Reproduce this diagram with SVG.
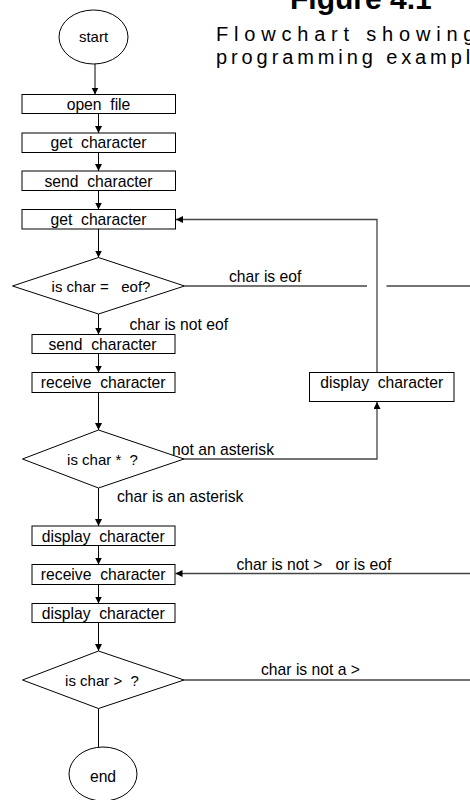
<svg xmlns="http://www.w3.org/2000/svg" width="470" height="800" viewBox="0 0 470 800">
  <style>
    text { font-family: "Liberation Sans", Arial, sans-serif; fill: #000; }
    .box { fill: #fff; stroke: #000; stroke-width: 1; }
    .term { fill: #fff; stroke: #000; stroke-width: 1; }
    .dec { fill: #fff; stroke: #000; stroke-width: 1; }
    .t { font-size: 15.7px; text-anchor: middle; }
    .td { font-size: 15px; text-anchor: middle; }
    .lbl { font-size: 15.7px; }
    .flow { fill: none; stroke: #000; stroke-width: 1; }
    .loop { fill: none; stroke: #444; stroke-width: 1.3; }
    .title { font-size: 30px; font-weight: bold; }
    .sub { font-size: 20px; }
  </style>
  <defs>
    <marker id="arrow" markerUnits="userSpaceOnUse" markerWidth="8" markerHeight="8" refX="7" refY="3.5" orient="auto">
      <path d="M0,0 L7,3.5 L0,7 z" fill="#000"/>
    </marker>
  </defs>
  <rect width="470" height="800" fill="#fff"/>

  <!-- heading -->
  <g id="heading">
    <text class="title" x="290" y="9">Figure 4.1</text>
    <text class="sub" x="216" y="40.5" letter-spacing="5.8">Flowchart showing</text>
    <text class="sub" x="216" y="63.5" letter-spacing="3.9">programming example</text>
  </g>

  <!-- connectors -->
  <g id="connectors">
    <line class="flow" x1="95" y1="64" x2="95" y2="94.5" marker-end="url(#arrow)"/>
    <line class="flow" x1="98.5" y1="113.5" x2="98.5" y2="133" marker-end="url(#arrow)"/>
    <line class="flow" x1="98.5" y1="152.5" x2="98.5" y2="171" marker-end="url(#arrow)"/>
    <line class="flow" x1="98.5" y1="190.5" x2="98.5" y2="209.5" marker-end="url(#arrow)"/>
    <line class="flow" x1="98.5" y1="229" x2="98.5" y2="257.5" marker-end="url(#arrow)"/>
    <line class="flow" x1="98.5" y1="314" x2="98.5" y2="334.5" marker-end="url(#arrow)"/>
    <line class="flow" x1="98.5" y1="353.5" x2="98.5" y2="372.5" marker-end="url(#arrow)"/>
    <line class="flow" x1="98.5" y1="392.5" x2="98.5" y2="430" marker-end="url(#arrow)"/>
    <line class="flow" x1="98.5" y1="488" x2="98.5" y2="526" marker-end="url(#arrow)"/>
    <line class="flow" x1="98.5" y1="545.5" x2="98.5" y2="564.5" marker-end="url(#arrow)"/>
    <line class="flow" x1="98.5" y1="584.5" x2="98.5" y2="603.5" marker-end="url(#arrow)"/>
    <line class="flow" x1="98.5" y1="622.5" x2="98.5" y2="651" marker-end="url(#arrow)"/>
    <line class="flow" x1="98.5" y1="708.5" x2="98.5" y2="747"/>

    <!-- char is eof: line jumps the return loop -->
    <line class="loop" x1="184.5" y1="286" x2="367" y2="286"/>
    <line class="loop" x1="386.5" y1="286" x2="470" y2="286"/>
    <!-- not an asterisk -->
    <polyline class="loop" points="184,459 377,459 377,402" marker-end="url(#arrow)"/>
    <!-- back to get character -->
    <polyline class="loop" points="377,372.5 377,219.5 176,219.5" marker-end="url(#arrow)"/>
    <!-- char is not > or is eof -->
    <line class="loop" x1="470" y1="573.5" x2="175.5" y2="573.5" marker-end="url(#arrow)"/>
    <!-- char is not a > -->
    <line class="loop" x1="184" y1="680" x2="470" y2="680"/>

    <text class="lbl" x="229" y="282">char is eof</text>
    <text class="lbl" x="129.5" y="330">char is not eof</text>
    <text class="lbl" x="172" y="455">not an asterisk</text>
    <text class="lbl" x="117" y="502">char is an asterisk</text>
    <text class="lbl" x="236.5" y="569.5" xml:space="preserve">char is not &gt;   or is eof</text>
    <text class="lbl" x="261" y="675">char is not a &gt;</text>
  </g>

  <!-- nodes -->
  <g id="start">
    <ellipse class="term" cx="93.5" cy="37" rx="34.5" ry="27"/>
    <text class="t" x="93.5" y="42" style="font-size:15px">start</text>
  </g>
  <g id="open-file">
    <rect class="box" x="22" y="94.5" width="153.5" height="19"/>
    <text class="t" x="98.5" y="109.5" xml:space="preserve">open  file</text>
  </g>
  <g id="get-character-1">
    <rect class="box" x="22" y="133" width="153.5" height="19.5"/>
    <text class="t" x="98.5" y="148.3" xml:space="preserve">get  character</text>
  </g>
  <g id="send-character-1">
    <rect class="box" x="22" y="171" width="153.5" height="19.5"/>
    <text class="t" x="98.5" y="186.5" xml:space="preserve">send  character</text>
  </g>
  <g id="get-character-2">
    <rect class="box" x="22" y="209.5" width="153.5" height="19.5"/>
    <text class="t" x="98.5" y="225" xml:space="preserve">get  character</text>
  </g>
  <g id="is-eof">
    <polygon class="dec" points="12.5,286 98.5,257.5 184.5,286 98.5,314"/>
    <text class="td" x="101" y="292" xml:space="preserve">is char =   eof?</text>
  </g>
  <g id="send-character-2">
    <rect class="box" x="32" y="334.5" width="143" height="19"/>
    <text class="t" x="102.5" y="349.5" xml:space="preserve">send  character</text>
  </g>
  <g id="receive-character-1">
    <rect class="box" x="32" y="372.5" width="143" height="20"/>
    <text class="t" x="103.2" y="388" xml:space="preserve">receive  character</text>
  </g>
  <g id="display-character-loop">
    <rect class="box" x="309.5" y="372.5" width="144.5" height="29"/>
    <text class="t" x="381.7" y="388.3" xml:space="preserve">display  character</text>
  </g>
  <g id="is-asterisk">
    <polygon class="dec" points="22.5,459 98.5,430 184,459 98.5,488"/>
    <text class="td" x="102.5" y="465" xml:space="preserve">is char *  ?</text>
  </g>
  <g id="display-character-1">
    <rect class="box" x="32" y="526" width="143" height="19.5"/>
    <text class="t" x="103.2" y="541.5" xml:space="preserve">display  character</text>
  </g>
  <g id="receive-character-2">
    <rect class="box" x="32" y="564.5" width="143" height="20"/>
    <text class="t" x="103.2" y="580" xml:space="preserve">receive  character</text>
  </g>
  <g id="display-character-2">
    <rect class="box" x="32" y="603.5" width="143" height="19"/>
    <text class="t" x="103.2" y="618.5" xml:space="preserve">display  character</text>
  </g>
  <g id="is-gt">
    <polygon class="dec" points="22.5,680 98.5,651 184,680 98.5,708.5"/>
    <text class="td" x="102" y="685.7" xml:space="preserve">is char &gt;  ?</text>
  </g>
  <g id="end">
    <ellipse class="term" cx="103" cy="774" rx="34" ry="27"/>
    <text class="t" x="103" y="781.5">end</text>
  </g>
</svg>
